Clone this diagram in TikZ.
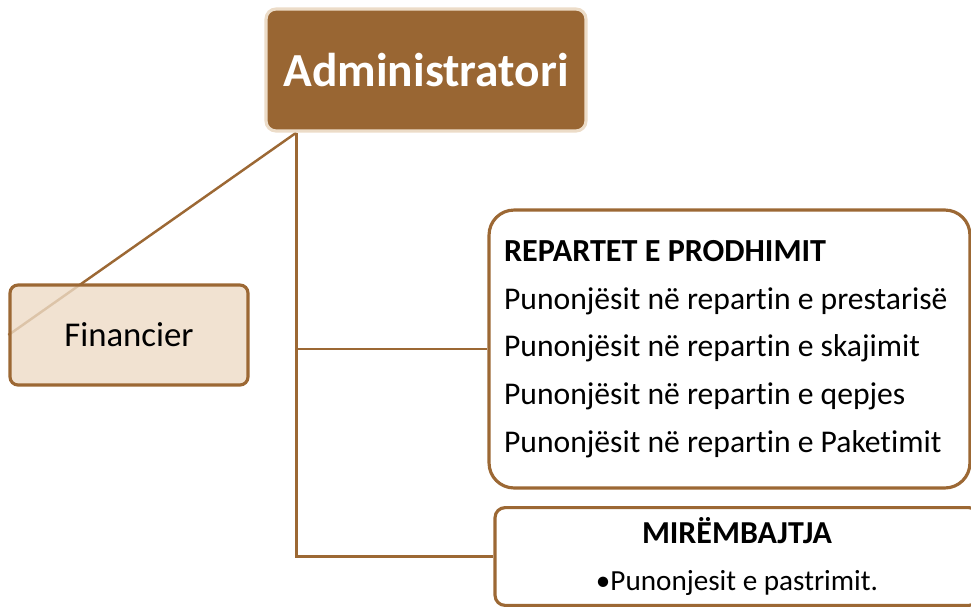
\documentclass[tikz,border=0pt]{standalone}
\usepackage{fontspec}
\setmainfont{Carlito}[Ligatures=NoCommon]
\usetikzlibrary{backgrounds}
\definecolor{adminbrown}{RGB}{153,102,51}
\definecolor{linebrown}{RGB}{156,104,52}
\definecolor{adminrim}{RGB}{236,220,200}
\definecolor{finfill}{RGB}{237,219,198}
\newcommand\plainspaces{\spaceskip 0pt\relax\xspaceskip 0pt\relax}

\begin{document}
\begin{tikzpicture}[x=0.02cm,y=-0.02cm]
\tikzstyle{boss}=[rectangle,rounded corners=0.2cm,fill=adminbrown,draw=adminrim,line width=1.8pt,text=white,font=\fontsize{27}{32}\selectfont\bfseries,minimum width=6.4cm,minimum height=2.44cm]
\tikzstyle{staff}=[rectangle,rounded corners=0.16cm,fill=finfill,fill opacity=0.8,text opacity=1,draw=linebrown,line width=1.8pt,text=black,font=\fontsize{19.8}{24}\selectfont,minimum width=4.76cm,minimum height=2cm]
\tikzstyle{dept}=[rectangle,rounded corners=0.5cm,fill=white,draw=linebrown,line width=1.8pt,text=black,font=\fontsize{18}{27.2}\selectfont,align=left,text width=9.02cm,inner sep=0.3cm,minimum height=5.56cm,execute at begin node=\plainspaces]
\tikzstyle{service}=[rectangle,rounded corners=0.2cm,fill=white,draw=linebrown,line width=1.8pt,text=black,font=\fontsize{16.6}{26.6}\selectfont,align=center,text width=9.28cm,inner sep=0.2cm,minimum height=1.94cm]
\tikzstyle{link}=[draw=linebrown,line width=1.4pt]
\clip (0,0) rectangle (971,606);
\node[boss] (admin) at (426,70) {Administratori};
\node[staff] (fin) at (129,335) {Financier};
\node[dept] (prod) at (729.5,349) {{\fontsize{18.3}{27.2}\selectfont\bfseries REPARTET E PRODHIMIT}\\
Punonjësit në repartin e prestarisë\\
Punonjësit në repartin e skajimit\\
Punonjësit në repartin e qepjes\\
Punonjësit në repartin e Paketimit};
\node[service] (mir) at (737,556.5) {\mbox{\fontsize{18.2}{20}\selectfont\bfseries MIRËMBAJTJA}\\
\mbox{\plainspaces\textbullet Punonjesit e pastrimit.}};
\coordinate (root) at ([xshift=0.64cm]admin.south west);
\begin{pgfonlayer}{background}
\draw[link] (root) -- (fin.west);
\draw[link] (root) |- (mir.west);
\draw[link] (root |- prod.west) -- (prod.west);
\end{pgfonlayer}
\end{tikzpicture}
\end{document}
